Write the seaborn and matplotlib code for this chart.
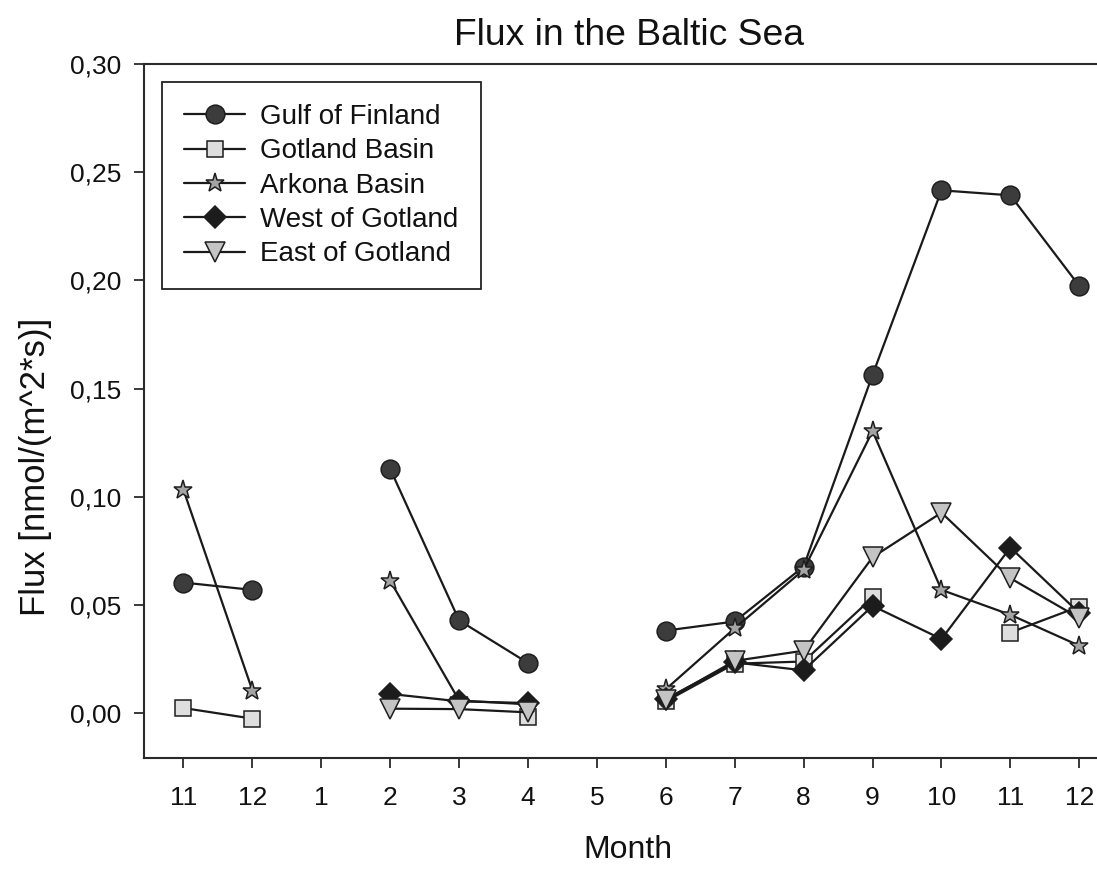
import numpy as np
import pandas as pd
import matplotlib
matplotlib.use("Agg")
import matplotlib.pyplot as plt
from matplotlib.lines import Line2D
from matplotlib.ticker import FuncFormatter, MultipleLocator
import seaborn as sns

# Month sequence (Nov of year 1 through Dec of year 2)
months = ["11", "12", "1", "2", "3", "4", "5", "6", "7", "8", "9", "10", "11", "12"]

nan = np.nan
gulf_of_finland = [0.0603, 0.0569, nan, 0.1128, 0.0428, 0.0231, nan,
                   0.0381, 0.0423, 0.0677, 0.1563, 0.2416, 0.2393, 0.1974]
gotland_basin = [0.0023, -0.0026, nan, nan, nan, -0.0020, nan,
                 0.0054, 0.0228, 0.0238, 0.0534, nan, 0.0372, 0.0492]
arkona_basin = [0.1031, 0.0104, nan, 0.0611, 0.0058, 0.0040, nan,
                0.0110, 0.0392, 0.0662, 0.1303, 0.0569, 0.0454, 0.0311]
west_of_gotland = [nan, nan, nan, 0.0088, 0.0054, 0.0046, nan,
                   0.0065, 0.0234, 0.0197, 0.0495, 0.0342, 0.0765, 0.0462]
east_of_gotland = [nan, nan, nan, 0.0020, 0.0018, 0.0003, nan,
                   0.0061, 0.0241, 0.0288, 0.0720, 0.0926, 0.0623, 0.0439]

series_names = ["Gulf of Finland", "Gotland Basin", "Arkona Basin",
                "West of Gotland", "East of Gotland"]
series_values = [gulf_of_finland, gotland_basin, arkona_basin,
                 west_of_gotland, east_of_gotland]

# marker appearance for each station group
marker_styles = {
    "Gulf of Finland": dict(marker="o", markersize=13.5, markerfacecolor="#3c3c3c"),
    "Gotland Basin": dict(marker="s", markersize=11.5, markerfacecolor="#dedede"),
    "Arkona Basin": dict(marker="*", markersize=14.0, markerfacecolor="#a4a4a4"),
    "West of Gotland": dict(marker="D", markersize=10.8, markerfacecolor="#1c1c1c"),
    "East of Gotland": dict(marker="v", markersize=14.0, markerfacecolor="#c4c4c4"),
}
edge_color = "#1e1e1e"
line_color = "#1a1a1a"

# long-form table; a new segment starts after every missing month
rows = []
for name, values in zip(series_names, series_values):
    seg = 0
    for i, v in enumerate(values):
        if np.isnan(v):
            seg += 1
            continue
        rows.append({"series": name, "pos": i, "flux": v, "segment": seg})
df = pd.DataFrame(rows)

sns.set_theme(style="ticks")
plt.rcParams["font.family"] = ["Liberation Sans", "DejaVu Sans"]
plt.rcParams["axes.edgecolor"] = "#2a2a2a"
plt.rcParams["axes.linewidth"] = 1.5

fig = plt.figure(figsize=(10.97, 8.69), dpi=100)
ax = fig.add_axes([144 / 1097, 1 - 758 / 869, 1 - 144 / 1097, (758 - 64) / 869])

for name in series_names:
    sub = df[df["series"] == name]
    sns.lineplot(data=sub, x="pos", y="flux", units="segment", estimator=None,
                 color=line_color, linewidth=1.6, markeredgecolor=edge_color,
                 markeredgewidth=1.1, ax=ax, legend=False, **marker_styles[name])

ax.set_xlim(-0.573, 13.257)
ax.set_ylim(-0.0208, 0.30)
ax.set_xticks(range(len(months)))
ax.set_xticklabels(months)
ax.yaxis.set_major_locator(MultipleLocator(0.05))
ax.yaxis.set_major_formatter(FuncFormatter(lambda v, _: f"{v:.2f}".replace(".", ",")))

ax.spines["right"].set_visible(False)

ax.tick_params(axis="both", which="major", labelsize=19, length=7.5, width=1.3,
               color="#2a2a2a", labelcolor="#111111")
ax.tick_params(axis="x", pad=13)
ax.tick_params(axis="y", pad=9)

ax.set_title("Flux in the Baltic Sea", fontsize=26.8, pad=14, x=0.509, color="#111111")
ax.set_xlabel("Month", fontsize=23, labelpad=18, x=0.508, color="#111111")
ax.set_ylabel("Flux [nmol/(m^2*s)]", fontsize=25, labelpad=13, y=0.42, color="#111111")

handles = [Line2D([], [], color=line_color, linewidth=1.6, markeredgecolor=edge_color,
                  markeredgewidth=1.1, **marker_styles[n]) for n in series_names]
leg = ax.legend(handles, series_names, loc="upper left", bbox_to_anchor=(0.0186, 0.9745),
                borderaxespad=0, fontsize=20, frameon=True, fancybox=False,
                framealpha=1, edgecolor="#222222", handlelength=2.2,
                handletextpad=0.55, borderpad=0.8, labelspacing=0.3)
leg.get_frame().set_linewidth(1.3)
for t in leg.get_texts():
    t.set_color("#111111")

fig.savefig("out.png", dpi=100)
